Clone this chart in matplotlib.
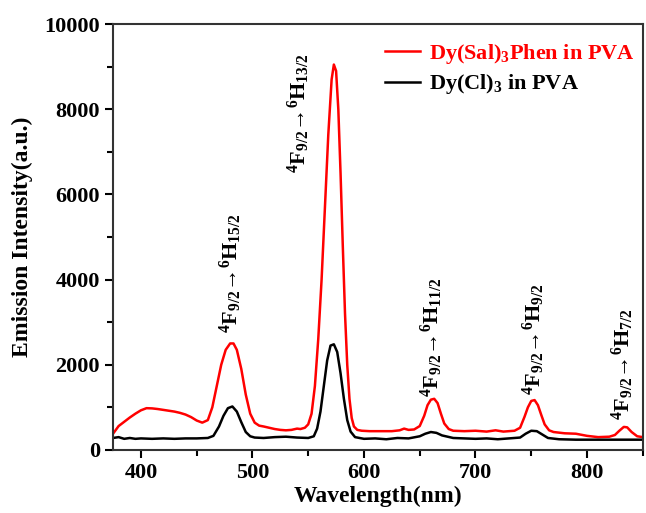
import numpy as np
import matplotlib
matplotlib.use('Agg')
import matplotlib.pyplot as plt
from matplotlib.ticker import MultipleLocator

plt.rcParams['font.family'] = 'Liberation Serif'
plt.rcParams['font.weight'] = 'bold'
plt.rcParams['mathtext.fontset'] = 'custom'
plt.rcParams['mathtext.rm'] = 'Liberation Serif:bold'
plt.rcParams['mathtext.bf'] = 'Liberation Serif:bold'
plt.rcParams['mathtext.it'] = 'Liberation Serif:bold'

# Espectro de emisión del complejo Dy(Sal)3Phen en PVA
wl_sal = [375, 380, 385, 390, 395, 400, 405, 410, 415, 420, 425, 430, 435, 440, 445, 450,
          455, 460, 464, 468, 472, 476, 480, 483, 486, 490, 494, 498, 502, 506, 510, 515,
          520, 525, 530, 535, 540, 543, 547, 550, 553, 556, 559, 562, 565, 568, 571, 573,
          575, 577, 579, 581, 583, 585, 587, 589, 591, 594, 598, 605, 615, 625, 632, 636,
          640, 645, 650, 654, 657, 660, 663, 666, 669, 672, 676, 680, 690, 700, 710, 718,
          725, 735, 740, 744, 747, 750, 753, 756, 759, 762, 766, 770, 780, 790, 800, 810,
          820, 825, 829, 833, 836, 840, 845, 850]
int_sal = [380, 560, 660, 760, 850, 930, 980, 975, 960, 940, 920, 900, 870, 830, 770, 690,
           640, 700, 1000, 1500, 2000, 2350, 2500, 2500, 2350, 1900, 1300, 850, 640, 570, 550, 520,
           490, 470, 460, 470, 500, 490, 520, 600, 850, 1500, 2600, 4000, 5700, 7400, 8700, 9050,
           8900, 8000, 6500, 4800, 3200, 2000, 1200, 750, 550, 470, 450, 440, 440, 440, 460, 500,
           470, 480, 560, 800, 1050, 1180, 1200, 1100, 850, 620, 490, 450, 440, 450, 430, 460,
           430, 450, 520, 780, 1000, 1150, 1170, 1050, 820, 600, 460, 420, 390, 380, 330, 300,
           310, 350, 450, 540, 530, 420, 320, 300]

# Espectro de emisión de DyCl3 en PVA
wl_cl = [375, 380, 385, 390, 395, 400, 410, 420, 430, 440, 450, 460, 465, 470, 474, 478,
         482, 486, 490, 494, 498, 502, 510, 520, 530, 540, 550, 555, 558, 561, 564, 567,
         570, 573, 576, 579, 582, 585, 588, 592, 600, 610, 620, 630, 640, 650, 655, 660,
         665, 670, 680, 690, 700, 710, 720, 730, 740, 745, 750, 755, 760, 765, 775, 790,
         810, 830, 850]
int_cl = [280, 300, 260, 280, 260, 270, 260, 270, 260, 270, 270, 280, 330, 550, 800, 980,
          1020, 900, 650, 420, 320, 290, 280, 300, 310, 290, 280, 320, 500, 900, 1500, 2100,
          2450, 2480, 2300, 1800, 1200, 700, 430, 300, 260, 270, 250, 280, 270, 320, 380, 420,
          400, 340, 280, 270, 260, 270, 250, 270, 290, 380, 450, 440, 360, 280, 250, 240,
          240, 240, 240]

# Transiciones 4F9/2 -> 6HJ: posición (nm), altura de inicio del texto, etiqueta
trans_x = [481, 542, 661, 752, 832]
trans_y = [2750, 6500, 1250, 1300, 700]
trans_lbl = [r'$^4$F$_{9/2}$→$^6$H$_{15/2}$',
             r'$^4$F$_{9/2}$→$^6$H$_{13/2}$',
             r'$^4$F$_{9/2}$→$^6$H$_{11/2}$',
             r'$^4$F$_{9/2}$→$^6$H$_{9/2}$',
             r'$^4$F$_{9/2}$→$^6$H$_{7/2}$']

fig = plt.figure(figsize=(6.46, 5.13), dpi=100)
ax = fig.add_axes([0.175, 0.123, 0.82, 0.830])

ax.plot(wl_sal, int_sal, color='red', lw=1.8, label=r'Dy(Sal)$_3$Phen in PVA')
ax.plot(wl_cl, int_cl, color='black', lw=1.8, label=r'Dy(Cl)$_3$ in PVA')

for x, y, t in zip(trans_x, trans_y, trans_lbl):
    ax.text(x, y, t, rotation=90, ha='center', va='bottom', fontsize=16, fontweight='bold')

ax.set_xlim(375, 850)
ax.set_ylim(0, 10000)
ax.xaxis.set_major_locator(MultipleLocator(100))
ax.xaxis.set_minor_locator(MultipleLocator(50))
ax.yaxis.set_major_locator(MultipleLocator(2000))
ax.yaxis.set_minor_locator(MultipleLocator(1000))
ax.tick_params(which='both', direction='out', width=1.5, labelsize=16)
ax.tick_params(which='major', length=6)
ax.tick_params(which='minor', length=4)
for s in ax.spines.values():
    s.set_linewidth(1.5)
    s.set_color('#333333')

ax.set_xlabel('Wavelength(nm)', fontsize=17, fontweight='bold', labelpad=2)
ax.set_ylabel('Emission Intensity(a.u.)', fontsize=17, fontweight='bold', labelpad=8)

leg = ax.legend(loc='upper right', frameon=False, fontsize=16, handlelength=1.6,
                handletextpad=0.4, borderaxespad=0.2, labelspacing=0.3,
                bbox_to_anchor=(1.01, 0.99))
for txt, c in zip(leg.get_texts(), ['red', 'black']):
    txt.set_color(c)

fig.savefig('out.png', dpi=100)
